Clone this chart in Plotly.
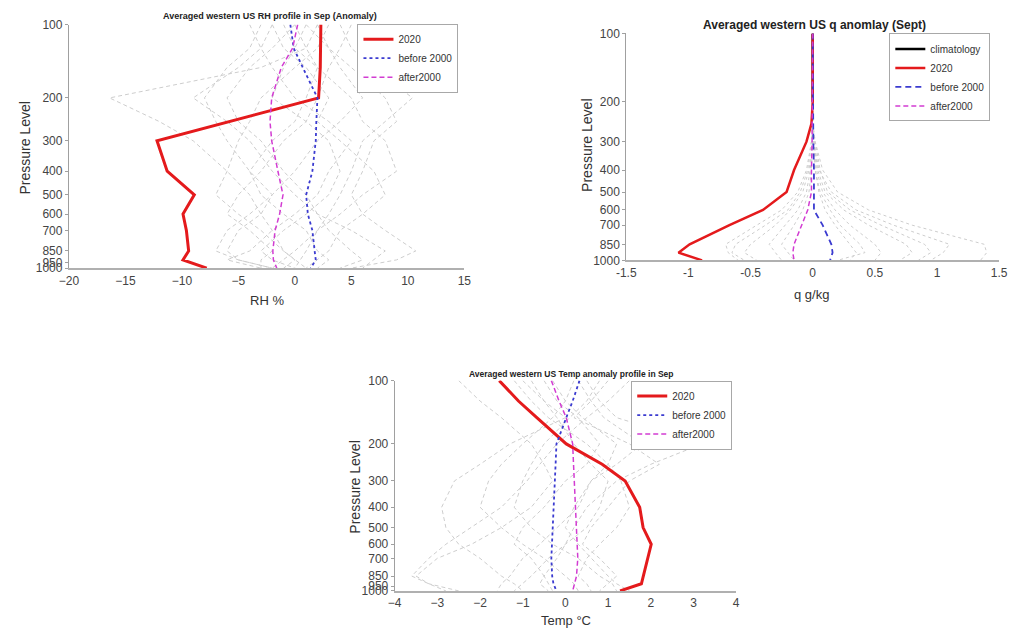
import plotly.graph_objects as go

# ---------------- data ----------------
levels = [100, 125, 150, 200, 250, 300, 400, 500, 600, 700, 850, 925, 1000]

# Panel 1: RH anomaly (%)
rh_2020 = [2.3, 2.3, 2.25, 2.1, -5.8, -12.2, -11.3, -8.9, -9.9, -9.6, -9.4, -9.9, -7.8]
rh_before = [-0.4, -0.1, 0.7, 2.0, 1.9, 1.85, 1.55, 1.0, 1.15, 1.55, 1.75, 1.85, 1.4]
rh_after = [0.25, -0.2, -1.2, -2.05, -2.2, -2.05, -1.5, -1.05, -1.35, -1.75, -1.95, -1.9, -1.6]
rh_years = [
    [2, 1, -3, -16.4, -12, -9, -6, -4, -3, -2, -1, 0, 1],
    [4, 5, 7, 10.4, 8, 6, 5, 4, 3, 2, 1, 0.5, 0],
    [-3, -4, -6, -8, -7, -6, -4, -2, -3, -5, -6, -5, -2],
    [1, 3, 5, 8, 9, 7, 6, 5, 6, 8, 10.7, 9, 5],
    [-2, -1, 1, 3, 2, 4, 7, 8, 6, 4, 3, 2, 1],
    [0, -2, -4, -6, -5, -3, -1, 1, 2, 3, 5, 6, 4],
    [3, 2, 0, -3, -4, -5, -6, -7, -5, -3, -1, 0, -1],
    [-1, 0, 2, 5, 6, 8, 9, 6, 4, 2, 0, -1, -2],
    [5, 4, 3, 2, 1, -1, -3, -5, -6, -4, -2, -3, -3],
    [-4, -3, -2, 0, 3, 5, 3, 2, 0, -2, -4, -6, -3],
    [2, 3, 4, 6, 4, 2, 0, -2, -4, -6, -7, -5, -2],
    [0, 1, 2, 1, 0, -2, -4, -3, -1, 1, 2, 3, 2],
    [-2, -3, -5, -9, -6, -4, -2, 0, 2, 5, 8, 7, 6],
    [1, 0, -1, -2, 1, 3, 4, 3, 1, -1, -3, -2, 0],
]

# Panel 2: q anomaly (g/kg)
q_clim = [0, 0, 0, 0]
q_clim_levels = [100, 125, 150, 200]
q_2020 = [0, 0, 0, 0, -0.01, -0.05, -0.15, -0.21, -0.4, -0.67, -0.99, -1.08, -0.89]
q_before = [0, 0, 0, 0, 0, 0.005, 0.01, 0.01, 0.01, 0.08, 0.15, 0.16, 0.14]
q_after = [0, 0, 0, 0, 0, -0.005, -0.01, -0.01, -0.04, -0.09, -0.15, -0.16, -0.15]
q_years = [
    [0, 0, 0, 0, 0, 0.02, 0.08, 0.2, 0.45, 0.8, 1.38, 1.4, 1.35],
    [0, 0, 0, 0, 0, 0.01, 0.05, 0.15, 0.35, 0.65, 1.1, 1.05, 0.95],
    [0, 0, 0, 0, 0, -0.01, -0.05, -0.12, -0.25, -0.45, -0.7, -0.68, -0.6],
    [0, 0, 0, 0, 0, 0.01, 0.04, 0.1, 0.25, 0.45, 0.75, 0.8, 0.7],
    [0, 0, 0, 0, 0, 0, -0.03, -0.08, -0.18, -0.3, -0.5, -0.55, -0.45],
    [0, 0, 0, 0, 0, 0.01, 0.03, 0.08, 0.18, 0.3, 0.5, 0.55, 0.5],
    [0, 0, 0, 0, 0, 0, -0.02, -0.05, -0.12, -0.22, -0.35, -0.3, -0.25],
    [0, 0, 0, 0, 0, 0.01, 0.02, 0.05, 0.1, 0.18, 0.3, 0.35, 0.3],
    [0, 0, 0, 0, 0, 0, -0.01, -0.03, -0.08, -0.15, -0.25, -0.2, -0.15],
    [0, 0, 0, 0, 0, 0.02, 0.06, 0.12, 0.3, 0.55, 0.9, 0.95, 0.85],
    [0, 0, 0, 0, 0, -0.01, -0.04, -0.1, -0.2, -0.38, -0.62, -0.65, -0.55],
    [0, 0, 0, 0, 0, 0, 0.02, 0.06, 0.14, 0.22, 0.38, 0.42, 0.2],
]

# Panel 3: Temperature anomaly (°C)
t_2020 = [-1.55, -1.1, -0.67, 0.02, 0.86, 1.4, 1.74, 1.82, 2.01, 1.93, 1.82, 1.78, 1.28]
t_before = [0.33, 0.17, 0.02, -0.21, -0.23, -0.25, -0.27, -0.29, -0.31, -0.33, -0.31, -0.28, -0.21]
t_after = [-0.33, -0.15, 0.02, 0.17, 0.19, 0.21, 0.23, 0.25, 0.27, 0.29, 0.26, 0.22, 0.17]
t_years = [
    [-2.5, -2, -1.5, -0.8, -0.5, -0.3, -0.8, -1.5, -2.2, -3, -3.5, -3.2, -2.5],
    [0.5, 0.8, 1.2, 3.2, 2.0, 1.2, 0.5, 0.2, 0, -0.2, -0.5, -0.4, -0.3],
    [-1, -0.5, 0, -1.3, -2, -2.6, -2.9, -2.8, -2.5, -2, -1.5, -1.2, -1],
    [1, 0.6, 0.2, 1.5, 2.2, 1.5, 1.0, 0.6, 0.4, 0.8, 1.2, 1, 0.8],
    [-0.5, -0.2, 0.3, 0.8, 0.5, 0, -0.5, -1, -1.2, -0.8, -0.5, -0.6, -0.4],
    [0.2, 0, -0.3, -1, -1.5, -1.8, -2, -1.5, -1, -0.5, 0, 0.2, 0.3],
    [-1.2, -0.8, -0.4, 0.5, 1, 1.3, 1.5, 1.2, 0.8, 0.5, 0.3, 0.5, 0.6],
    [0.8, 0.5, 0.1, -0.5, -0.8, -1, -1.2, -0.8, -0.3, 0.3, 0.8, 1.1, 1.2],
    [-0.3, 0, 0.4, 1.2, 1.0, 0.6, 0.2, 0, 0.3, 0.6, 1.0, 1.2, 1.5],
    [1.5, 1.0, 0.5, -0.2, -0.6, -0.9, -1.5, -2.2, -2.8, -3.2, -3.6, -3.2, -2.8],
    [-0.8, -0.5, -0.2, 0.2, 0.6, 1, 0.8, 0.5, 0, -0.4, -0.8, -1, -1.2],
    [0.3, 0.6, 0.9, 1.8, 1.2, 0.6, 0.3, -0.2, -0.6, -1, -1.3, -1.5, -1.6],
]

ytick_vals_a = [100, 200, 300, 400, 500, 600, 700, 850, 950, 1000]
ytick_vals_b = [100, 200, 300, 400, 500, 600, 700, 850, 1000]

rh_ticks = [-20, -15, -10, -5, 0, 5, 10, 15]
q_ticks = [-1.5, -1, -0.5, 0, 0.5, 1, 1.5]
q_tick_text = ["-1.5", "-1", "-0.5", "0", "0.5", "1", "1.5"]
t_ticks = [-4, -3, -2, -1, 0, 1, 2, 3, 4]

# ---------------- styles ----------------
FONT = "Liberation Sans, Arial, sans-serif"
RED = "#e41a1c"
BLUE = "#3b3bd0"
MAG = "#d23cd2"
GRAY = "#cdcdcd"

fig = go.Figure()


def add_panel(xa, ya, years, red, blue, mag, legend, gray_dash, blue_dash, red_w, clim=None):
    for prof in years:
        fig.add_trace(go.Scatter(x=prof, y=levels, mode="lines", xaxis=xa, yaxis=ya,
                                 line=dict(color=GRAY, width=1, dash=gray_dash),
                                 showlegend=False, hoverinfo="skip"))
    if clim is not None:
        fig.add_trace(go.Scatter(x=clim, y=q_clim_levels, mode="lines", xaxis=xa, yaxis=ya,
                                 line=dict(color="black", width=2.5), name="climatology",
                                 legend=legend))
    fig.add_trace(go.Scatter(x=red, y=levels, mode="lines", xaxis=xa, yaxis=ya,
                             line=dict(color=RED, width=red_w), name="2020", legend=legend))
    fig.add_trace(go.Scatter(x=blue, y=levels, mode="lines", xaxis=xa, yaxis=ya,
                             line=dict(color=BLUE, width=1.8, dash=blue_dash),
                             name="before 2000", legend=legend))
    fig.add_trace(go.Scatter(x=mag, y=levels, mode="lines", xaxis=xa, yaxis=ya,
                             line=dict(color=MAG, width=1.5, dash="5px,3px"),
                             name="after2000", legend=legend))


add_panel("x", "y", rh_years, rh_2020, rh_before, rh_after, "legend", "4px,3px", "dot", 3)
add_panel("x2", "y2", q_years, q_2020, q_before, q_after, "legend2", "dot", "6px,4px", 2.5, clim=q_clim)
add_panel("x3", "y3", t_years, t_2020, t_before, t_after, "legend3", "4px,3px", "dot", 3)

W, H = 1016, 638


def px(x):
    return x / W


def py(y):
    return 1 - y / H


tickfont = dict(family=FONT, size=12, color="#444")


def xaxis(domain, rng, ticks, text=None, anchor="y"):
    d = dict(domain=domain, range=rng, tickvals=ticks, showgrid=False, zeroline=False,
             showline=True, linecolor="#b0b0b0", linewidth=2, ticks="", tickfont=tickfont,
             anchor=anchor, fixedrange=True)
    if text is not None:
        d["ticktext"] = text
    return d


def yaxis(domain, ticks, anchor="x"):
    return dict(domain=domain, type="log", range=[3, 2], tickvals=ticks,
                ticktext=[str(t) for t in ticks], showgrid=False, zeroline=False,
                showline=True, linecolor="#a0a0a0", linewidth=1, ticks="outside",
                ticklen=3, tickcolor="#a0a0a0", tickfont=tickfont, anchor=anchor,
                fixedrange=True)


legend_common = dict(bgcolor="white", bordercolor="#a8a8a8", borderwidth=1,
                     font=dict(family=FONT, size=10, color="#333"),
                     itemwidth=30, tracegroupgap=0, yanchor="top")

fig.update_layout(
    width=W, height=H, margin=dict(l=0, r=0, t=0, b=0),
    paper_bgcolor="white", plot_bgcolor="white",
    xaxis=xaxis([px(60), px(463)], [-20, 15], rh_ticks, anchor="y"),
    yaxis=yaxis([py(267), py(18)], ytick_vals_a, anchor="x"),
    xaxis2=xaxis([px(628), px(1008)], [-1.5, 1.5], q_ticks, q_tick_text, anchor="y2"),
    yaxis2=yaxis([py(259), py(27)], ytick_vals_b, anchor="x2"),
    xaxis3=xaxis([px(392), px(740)], [-4, 4], t_ticks, anchor="y3"),
    yaxis3=yaxis([py(597), py(382)], ytick_vals_a, anchor="x3"),
    legend=dict(x=px(457), y=py(17), xanchor="right", **legend_common),
    legend2=dict(x=px(999), y=py(27), xanchor="right", **legend_common),
    legend3=dict(x=px(736), y=py(382), xanchor="right", **legend_common),
    showlegend=True,
)

ann = []


def text(x, y, s, size, bold=False, angle=0, color="#222"):
    ann.append(dict(x=px(x), y=py(y), xref="paper", yref="paper", text=("<b>%s</b>" % s) if bold else s,
                    showarrow=False, textangle=angle, xanchor="center", yanchor="middle",
                    font=dict(family=FONT, size=size, color=color)))


text(265, 9, "Averaged western US RH profile in Sep (Anomaly)", 9, bold=True)
text(820, 18, "Averaged western US q anomlay (Sept)", 12, bold=True)
text(572, 375, "Averaged western US Temp anomaly profile in Sep", 8.5, bold=True)
text(262, 300, "RH %", 13, color="#333")
text(817, 294, "q g/kg", 13, color="#333")
text(567, 627, "Temp °C", 13, color="#333")
text(15, 144, "Pressure Level", 14, angle=-90, color="#333")
text(588, 142, "Pressure Level", 14, angle=-90, color="#333")
text(352, 491, "Pressure Level", 14, angle=-90, color="#333")
fig.update_layout(annotations=ann)

fig.write_html("out.html")
